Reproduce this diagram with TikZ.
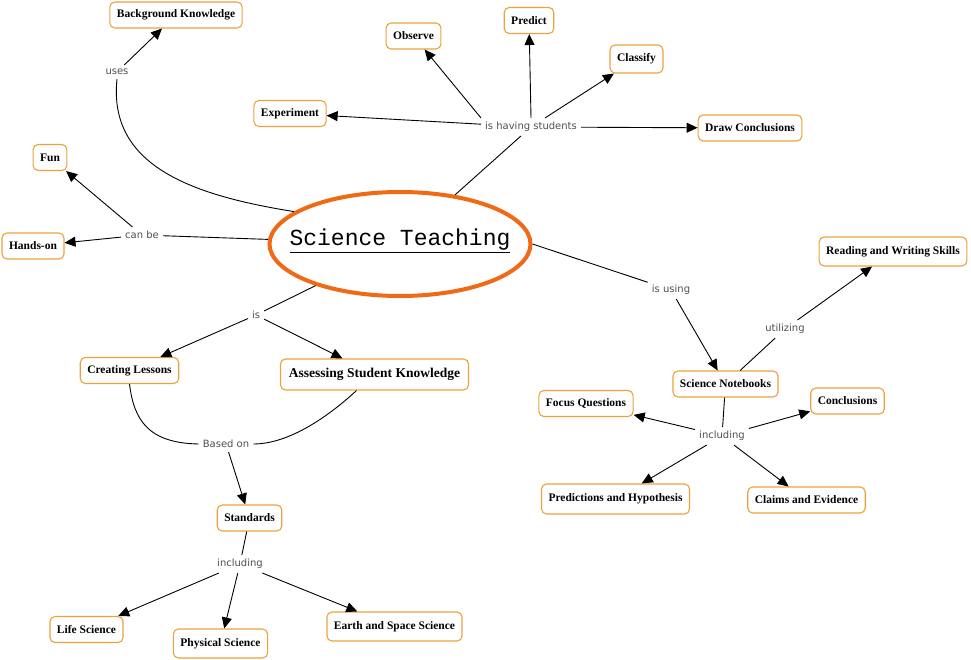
\documentclass[tikz,border=0pt]{standalone}
\usepackage{fontspec}
\setmainfont{Liberation Serif}
\newfontfamily\lblfont{DejaVu Sans}
\newfontfamily\titlefont{Liberation Mono}
\usetikzlibrary{shapes.geometric,arrows.meta}
\definecolor{boxc}{RGB}{235,162,60}
\definecolor{ellc}{RGB}{240,105,20}
\definecolor{lblc}{RGB}{80,80,80}
\begin{document}
\begin{tikzpicture}[x=1pt,y=-1pt,
 concept/.style={draw=boxc, line width=1.1pt, rounded corners=5pt, fill=white,
   font=\fontsize{11.5}{13}\selectfont\bfseries, inner xsep=7pt, inner ysep=2pt, minimum height=26pt},
 lbl/.style={font=\fontsize{10}{12}\selectfont\lblfont, text=lblc, inner sep=4pt},
 arr/.style={-{Triangle[length=11pt,width=10pt]}, line width=0.9pt},
 ln/.style={line width=0.9pt}]
\fill[white] (0,0) rectangle (971,660);
\useasboundingbox (0,0) rectangle (971,660);

% central concept
\node[ellipse, draw=ellc, line width=4pt, minimum width=261pt, minimum height=104pt, inner sep=0pt] (ell) at (400,244) {};
\node[font=\titlefont\fontsize{23}{25}\selectfont, inner sep=0pt] (title) at (400,241) {\underline{Science Teaching}};

% concepts
\node[concept] (bk) at (176,15) {Background Knowledge};
\node[concept] (obs) at (413.5,36) {Observe};
\node[concept] (pred) at (529,20.5) {Predict};
\node[concept, minimum height=28pt] (cls) at (636.5,59) {Classify};
\node[concept] (exp) at (290,113.5) {Experiment};
\node[concept] (dc) at (750,128) {Draw Conclusions};
\node[concept] (fun) at (50,157.5) {Fun};
\node[concept] (hands) at (33,246) {Hands-on};
\node[concept, minimum height=29pt] (rw) at (893,251.5) {Reading and Writing Skills};
\node[concept] (cl) at (129.5,370.5) {Creating Lessons};
\node[concept, font=\fontsize{13.5}{15}\selectfont\bfseries, minimum height=31pt, inner xsep=8.5pt] (ask) at (374.5,374.5) {Assessing Student Knowledge};
\node[concept] (sn) at (725.5,384) {Science Notebooks};
\node[concept] (fq) at (586,403.5) {Focus Questions};
\node[concept] (conc) at (847.5,401) {Conclusions};
\node[concept, minimum height=30pt] (ph) at (615.5,499) {Predictions and Hypothesis};
\node[concept] (ce) at (806.5,500) {Claims and Evidence};
\node[concept] (std) at (249.5,518) {Standards};
\node[concept] (life) at (86.5,629.5) {Life Science};
\node[concept, minimum height=29pt] (phys) at (220.5,643.5) {Physical Science};
\node[concept, minimum height=29pt] (earth) at (394.5,626.5) {Earth and Space Science};

% linking phrases
\node[lbl] (uses) at (117,72) {uses};
\node[lbl] (ihs) at (531,127) {is having students};
\node[lbl] (canbe) at (142,235) {can be};
\node[lbl] (is) at (256,315) {is};
\node[lbl] (based) at (226,444) {Based on};
\node[lbl] (inc1) at (240,564) {including};
\node[lbl] (isusing) at (671,290) {is using};
\node[lbl] (util) at (785,329) {utilizing};
\node[lbl] (inc2) at (722,436) {including};

% connectors
\draw[ln] (ell.163) .. controls (190,195) and (108,165) .. (uses.south);
\draw[arr] (uses) -- (bk);

\draw[ln] (ell) -- (ihs);
\draw[arr] (ihs.north west) -- (obs);
\draw[arr] (ihs.north) -- (pred);
\draw[arr] (ihs) -- (cls);
\draw[arr] (ihs) -- (exp);
\draw[arr] (ihs) -- (dc);

\draw[ln] (ell) -- (canbe);
\draw[arr] (canbe) -- (fun);
\draw[arr] (canbe) -- (hands);

\draw[ln] (ell) -- (is);
\draw[arr] (is) -- (cl);
\draw[arr] (is) -- (ask);

\draw[ln] (cl.south) .. controls (134,420) and (148,443) .. (based.west);
\draw[ln] ([xshift=-18pt]ask.south) .. controls (330,415) and (290,444) .. (based.east);
\draw[arr] (based) -- (std);

\draw[ln] (std) -- (inc1);
\draw[arr] (inc1) -- (life);
\draw[arr] (inc1) -- (phys);
\draw[arr] (inc1) -- (earth);

\draw[ln] (ell.east) -- (isusing);
\draw[arr] (isusing) -- (sn);
\draw[ln] (sn) -- (util);
\draw[arr] (util) -- (rw);

\draw[ln] (sn) -- (inc2);
\draw[arr] (inc2) -- (fq);
\draw[arr] (inc2) -- (conc);
\draw[arr] (inc2) -- (ph);
\draw[arr] (inc2) -- (ce);
\end{tikzpicture}
\end{document}
